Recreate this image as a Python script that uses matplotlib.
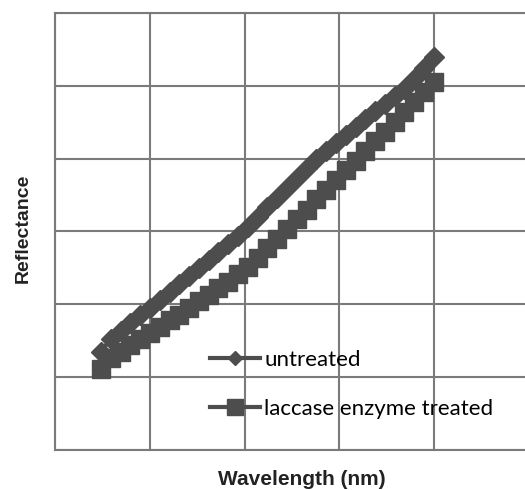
import numpy as np
import matplotlib.pyplot as plt

# wavelength (nm) and reflectance (%)
wavelength = [360, 370, 380, 390, 400, 410, 420, 430, 440, 450, 460, 470,
              480, 490, 500, 510, 520, 530, 540, 550, 560, 570, 580, 590,
              600, 610, 620, 630, 640, 650, 660, 670, 680, 690, 700]
untreated = [13.5, 15.3, 16.4, 17.4, 18.5, 19.5, 20.6, 21.7, 22.8, 23.9, 25.0, 26.1,
             27.2, 28.3, 29.4, 30.6, 32.0, 33.3, 34.6, 36.0, 37.3, 38.7, 40.0, 41.1,
             42.2, 43.3, 44.4, 45.4, 46.5, 47.5, 48.6, 49.6, 51.0, 52.5, 54.0]
laccase = [11.1, 12.6, 13.5, 14.4, 15.3, 16.1, 16.9, 17.8, 18.6, 19.5, 20.4, 21.3,
           22.2, 23.1, 24.1, 25.1, 26.4, 27.7, 29.0, 30.3, 31.7, 33.0, 34.4, 35.7,
           37.1, 38.4, 39.7, 41.0, 42.4, 43.7, 45.1, 46.4, 47.8, 49.2, 50.5]

col = '#4d4d4d'
gridcol = '#7a7a7a'

fig = plt.figure(figsize=(5.25, 4.9), dpi=100)
ax = fig.add_axes([55/525, 1 - 450/490, 474/525, 437/490])

ax.plot(wavelength, untreated, color=col, lw=3, marker='D', ms=10.5,
        label='untreated')
ax.plot(wavelength, laccase, color=col, lw=3, marker='s', ms=13,
        label='laccase enzyme treated')

x0, x1 = 313.0, 797.2
ax.set_xlim(x0, x1)
ax.set_ylim(0, 60)
ax.set_xticks(np.linspace(x0, x1, 6))
ax.set_yticks(np.arange(0, 61, 10))
ax.tick_params(length=0, labelbottom=False, labelleft=False)
ax.grid(color=gridcol, lw=1.5)
ax.set_axisbelow(True)
for s in ax.spines.values():
    s.set_color(gridcol)
    s.set_linewidth(1.5)

leg = ax.legend(loc='upper left', bbox_to_anchor=(210/525, 1 - 350/490),
                bbox_transform=fig.transFigure, frameon=False,
                prop={'family': 'Lato', 'size': 16}, handlelength=2.25,
                handletextpad=0.2, labelspacing=1.3, borderpad=0,
                borderaxespad=0)
handles = leg.legend_handles
handles[0].set_markersize(7.5)
handles[1].set_markersize(12)

fig.text(302/525, 1 - 479/490, 'Wavelength (nm)', ha='center', va='center',
         family='Liberation Sans', weight='bold', size=15, color='#222222')
fig.text(23/525, 1 - 228/490, 'Reflectance', ha='center', va='center',
         rotation=90, family='Liberation Sans', weight='bold', size=14,
         color='#222222')

fig.savefig('out.png', dpi=100)
